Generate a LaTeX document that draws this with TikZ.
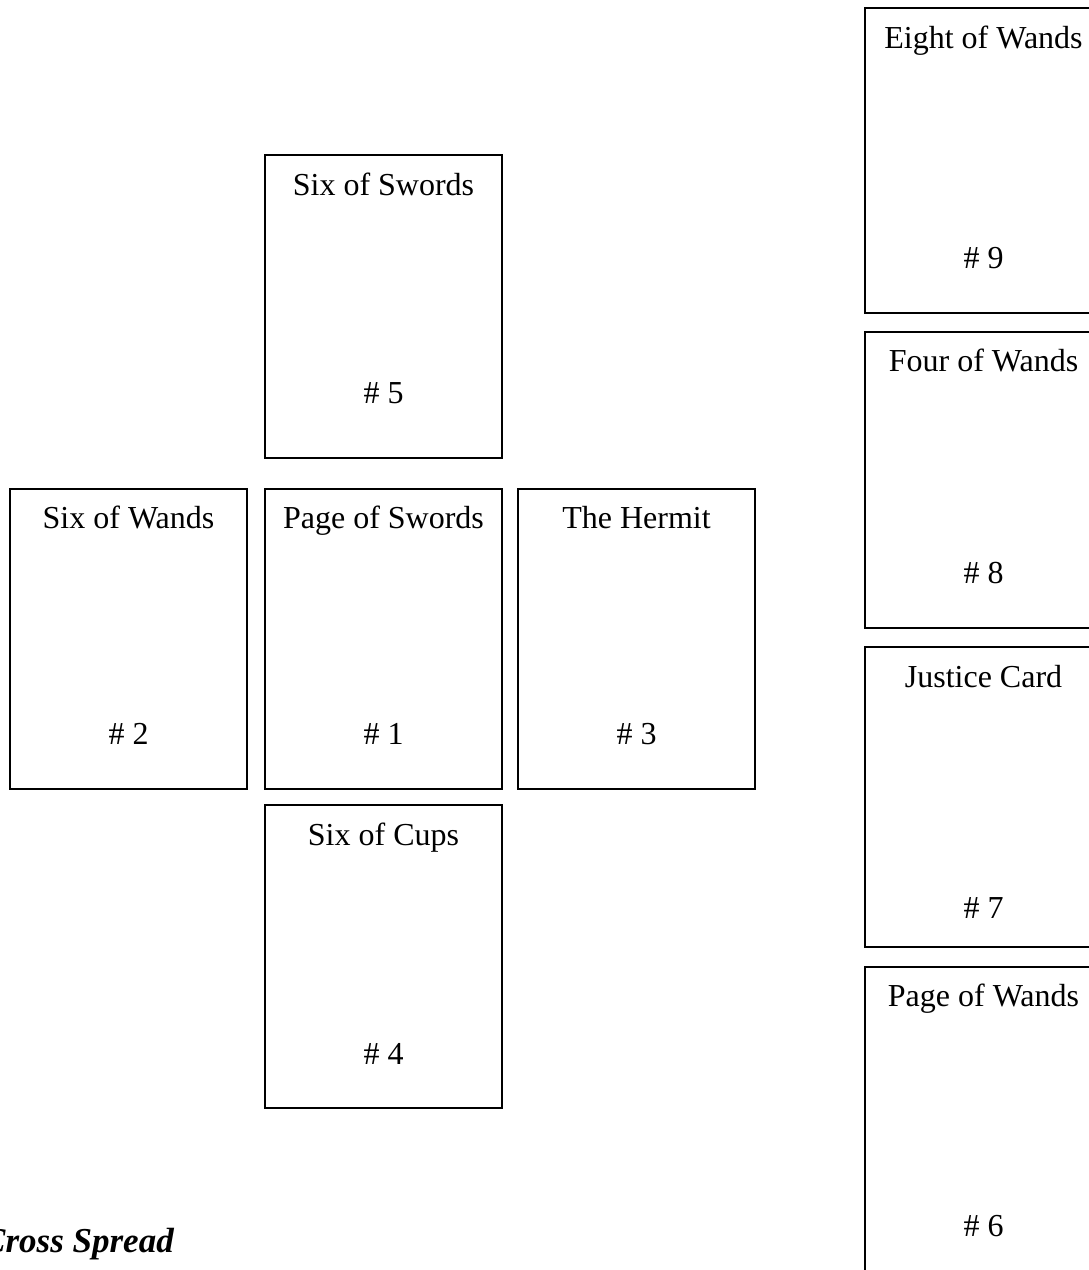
\documentclass[tikz,border=0pt]{standalone}
\usepackage{fontspec}
\setmainfont{Liberation Serif}
\usepackage{tikz}

\begin{document}
\begin{tikzpicture}[x=1pt,y=-1pt,
  card/.style={draw,line width=1.6pt,minimum width=237pt,inner sep=0pt},
  ttl/.style={anchor=base,font=\fontsize{32}{38}\selectfont},
  num/.style={anchor=base,font=\fontsize{32}{38}\selectfont}]
        \useasboundingbox (0,0) rectangle (1089,1270);
        % cross
        \node[card,minimum height=303pt] (c5) at (383.5,306.5) {};
        \node[card,minimum height=300pt] (c2) at (128.5,639) {};
        \node[card,minimum height=300pt] (c1) at (383.5,639) {};
        \node[card,minimum height=300pt] (c3) at (636.5,639) {};
        \node[card,minimum height=303pt] (c4) at (383.5,956.5) {};
        % staff
        \node[card,minimum height=305pt] (c9) at (983.5,160.5) {};
        \node[card,minimum height=296pt] (c8) at (983.5,480) {};
        \node[card,minimum height=300pt] (c7) at (983.5,797) {};
        \node[card,minimum height=310pt] (c6) at (983.5,1122) {};
        \node[ttl] (t5) at (383.5,195) {Six of Swords};
        \node[ttl] (t2) at (128.5,528) {Six of Wands};
        \node[ttl] (t1) at (383.5,528) {Page of Swords};
        \node[ttl] (t3) at (636.5,528) {The Hermit};
        \node[ttl] (t4) at (383.5,845) {Six of Cups};
        \node[ttl] (t9) at (983.5,48) {Eight of Wands};
        \node[ttl] (t8) at (983.5,371) {Four of Wands};
        \node[ttl] (t7) at (983.5,687) {Justice Card};
        \node[ttl] (t6) at (983.5,1006) {Page of Wands};
        \node[num] (n5) at (383.5,403) {\# 5};
        \node[num] (n2) at (128.5,744) {\# 2};
        \node[num] (n1) at (383.5,744) {\# 1};
        \node[num] (n3) at (636.5,744) {\# 3};
        \node[num] (n4) at (383.5,1064) {\# 4};
        \node[num] (n9) at (983.5,268) {\# 9};
        \node[num] (n8) at (983.5,583) {\# 8};
        \node[num] (n7) at (983.5,918) {\# 7};
        \node[num] (n6) at (983.5,1236) {\# 6};
        \node[anchor=base west,inner sep=0pt,font=\fontsize{35}{42}\selectfont\bfseries\itshape] (cap) at (-18,1252) {Cross Spread};
      \end{tikzpicture}
\end{document}
